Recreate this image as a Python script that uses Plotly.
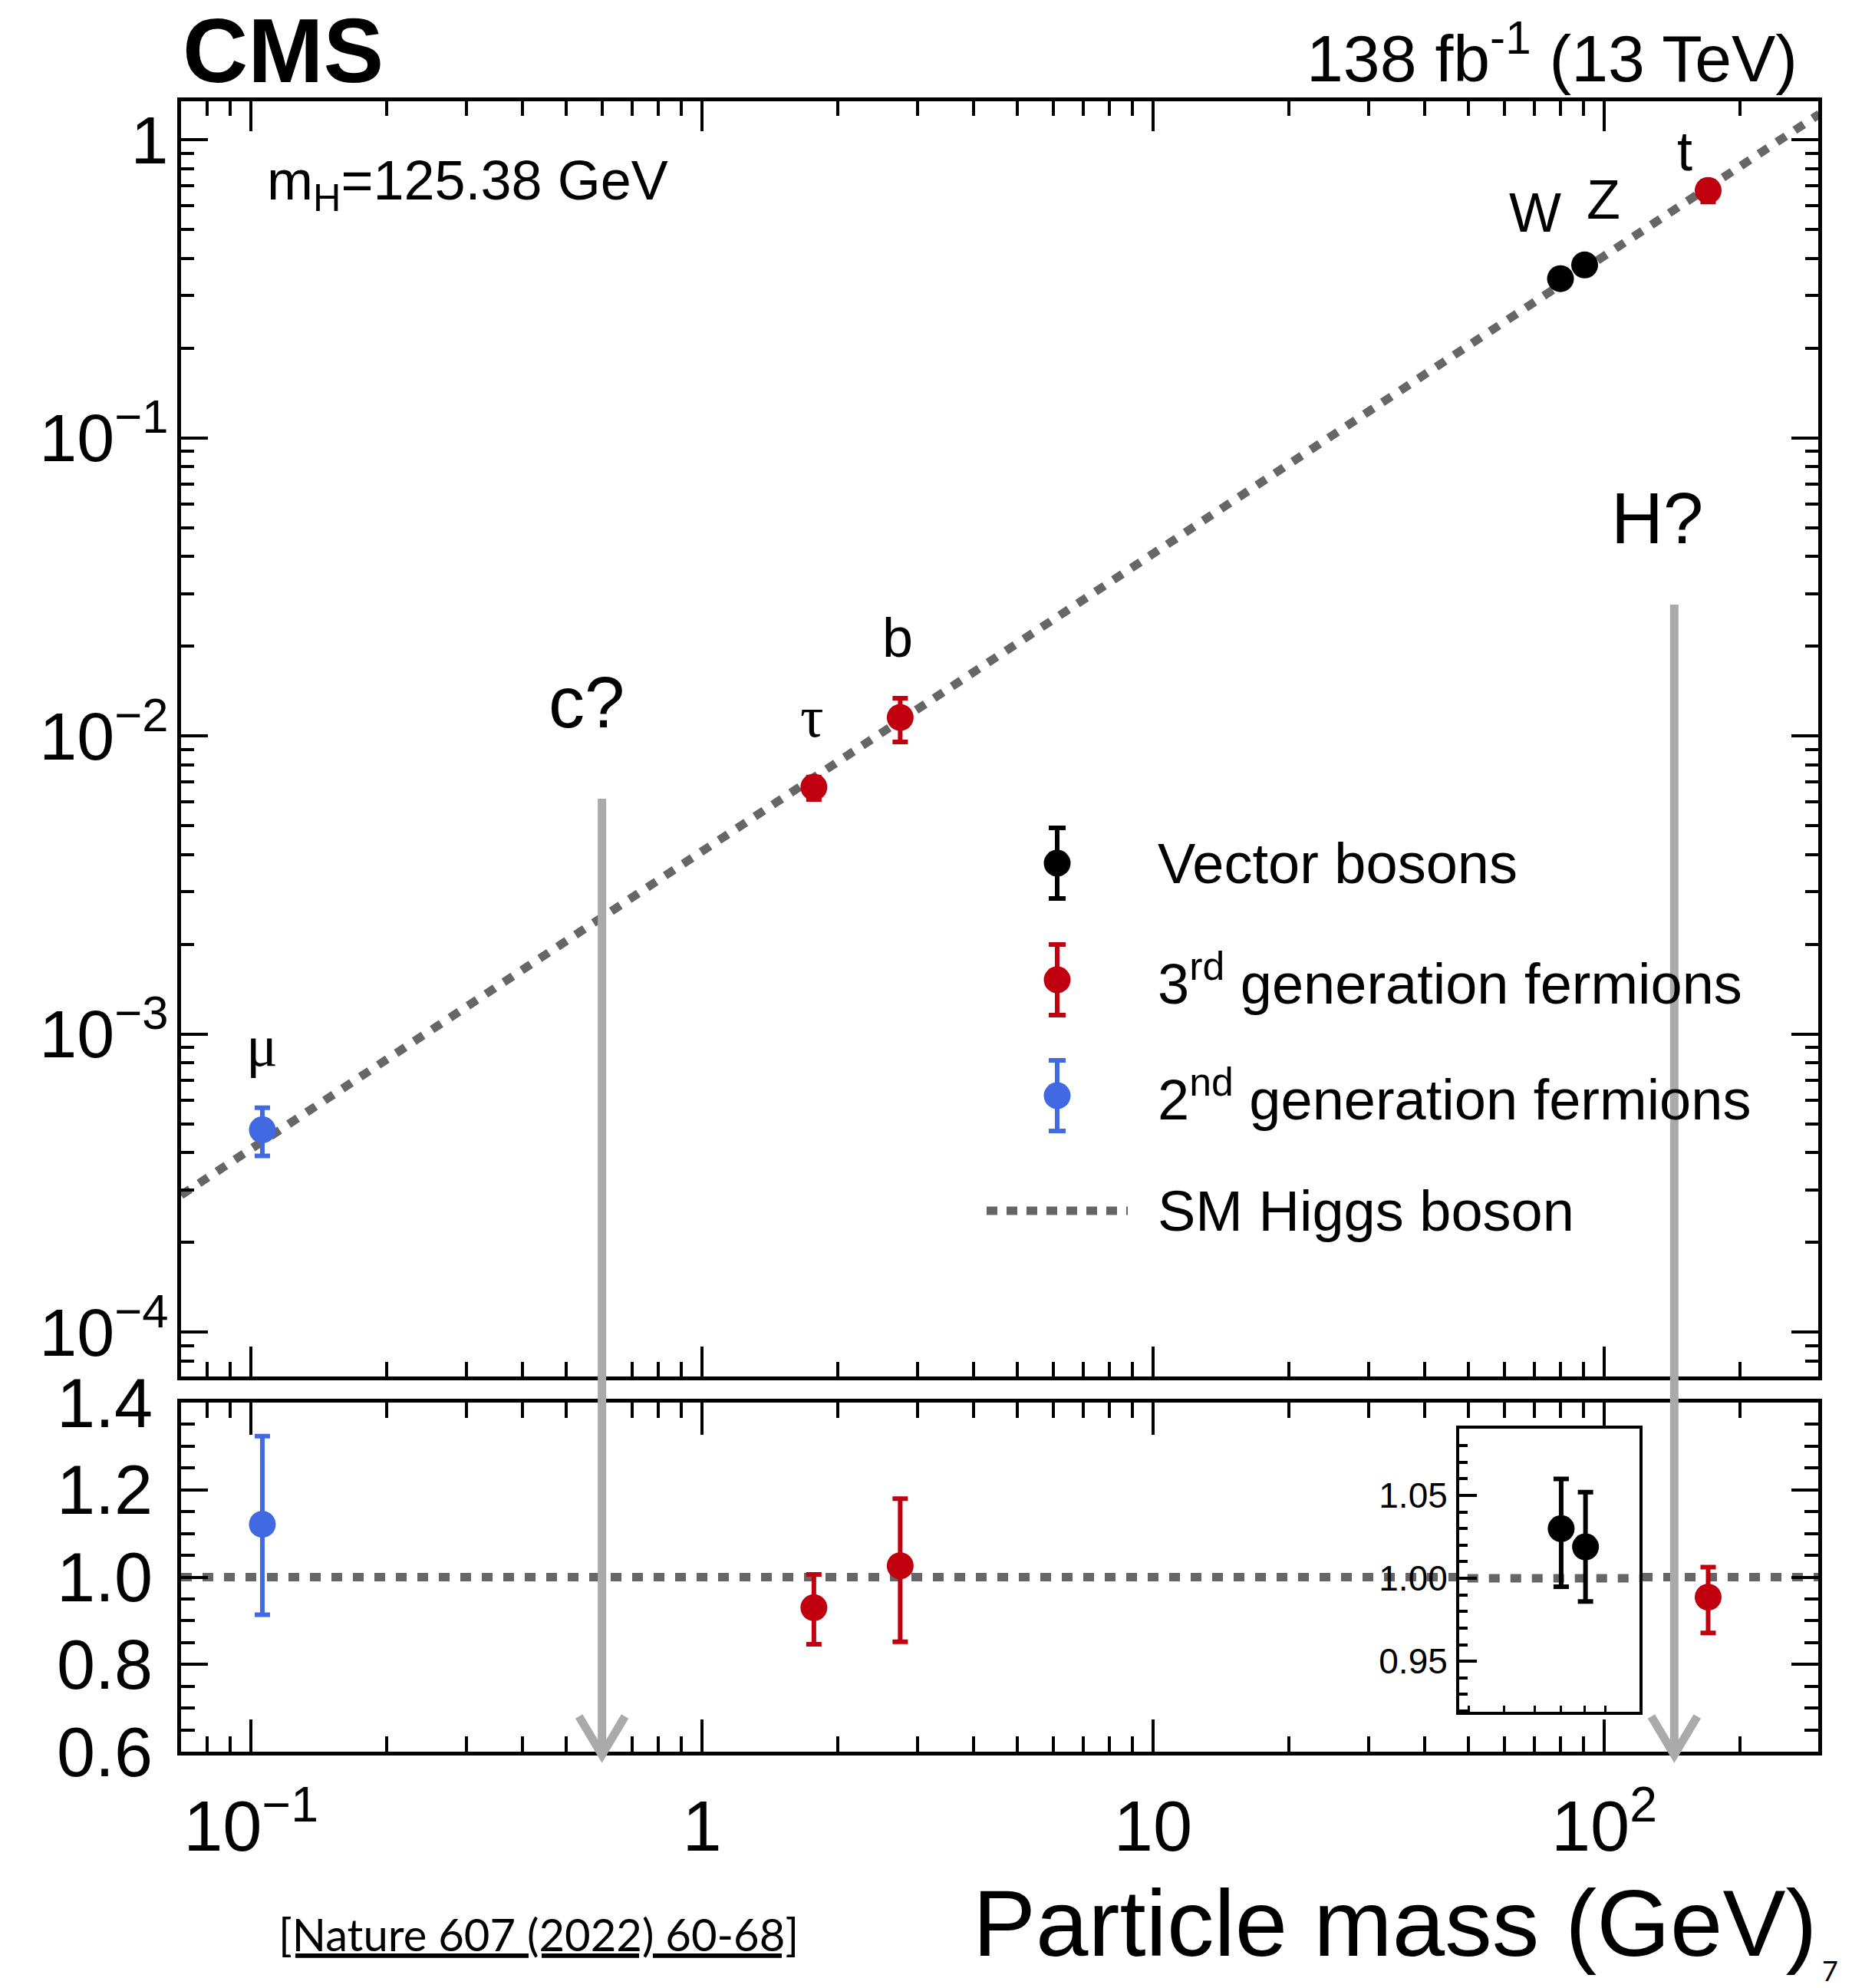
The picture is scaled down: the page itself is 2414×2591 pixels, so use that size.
import numpy as np
import plotly.graph_objects as go

# ---------------------------------------------------------------- data
# Vector bosons
vb_names = ["W", "Z"]
vb_mass = [80.0, 90.5]
vb_coupling = [0.342, 0.380]
vb_coupling_err = [0.005, 0.006]
vb_ratio = [1.030, 1.019]
vb_ratio_up = [0.030, 0.033]
vb_ratio_dn = [0.035, 0.033]

# 3rd generation fermions
f3_names = ["τ", "b", "t"]
f3_mass = [1.77, 2.75, 170.0]
f3_coupling = [0.00673, 0.01153, 0.676]
f3_coupling_up = [0.00055, 0.00184, 0.048]
f3_coupling_dn = [0.00061, 0.00198, 0.058]
f3_ratio = [0.930, 1.026, 0.954]
f3_ratio_up = [0.076, 0.154, 0.069]
f3_ratio_dn = [0.084, 0.174, 0.082]

# 2nd generation fermions
f2_names = ["μ"]
f2_mass = [0.106]
f2_coupling = [4.77e-4]
f2_coupling_up = [0.89e-4]
f2_coupling_dn = [0.87e-4]
f2_ratio = [1.121]
f2_ratio_up = [0.202]
f2_ratio_dn = [0.207]

# SM Higgs boson expectation (straight line in log-log)
sm_mass = [0.07, 300.0]
sm_coupling = [2.88e-4, 1.22]

# not-yet-observed couplings marked with arrows
open_names = ["c?", "H?"]
open_mass = [0.60, 143.0]

x_ticks = [0.1, 1, 10, 100]
x_ticktext = ["10<sup>−1</sup>", "1", "10", "10<sup>2</sup>"]
y_ticks = [1e-4, 1e-3, 1e-2, 1e-1, 1]
y_ticktext = ["10<sup>−4</sup>", "10<sup>−3</sup>", "10<sup>−2</sup>", "10<sup>−1</sup>", "1"]
r_ticks = [0.6, 0.8, 1.0, 1.2, 1.4]
r_ticktext = ["0.6", "0.8", "1.0", "1.2", "1.4"]
inset_ticks = [0.95, 1.00, 1.05]
inset_ticktext = ["0.95", "1.00", "1.05"]
inset_xticks = [50, 60, 70, 80, 90, 100]

# ---------------------------------------------------------------- style
FONT = "Liberation Sans, Arial, Helvetica, sans-serif"
SERIF = "Liberation Serif, Times New Roman, serif"
BLACK = "#000000"
RED = "#c1000f"
BLUE = "#4169e1"
GREY = "#666666"
ARROW = "#aaaaaa"

W, H = 2414, 2591
L, R, T, B = 236, 44, 132, 308
PW = W - L - R
PH = H - T - B


def px_x(px):
    return (px - L) / PW


def px_y(py):
    return (H - B - py) / PH


fig = go.Figure()


def points(x, y, up, dn, color, xa, ya):
    return go.Scatter(
        x=x, y=y, mode="markers", xaxis=xa, yaxis=ya,
        marker=dict(size=35, color=color, line=dict(width=0)),
        error_y=dict(type="data", symmetric=False, array=up, arrayminus=dn,
                     color=color, thickness=6, width=10),
        showlegend=False, hoverinfo="skip",
    )


dash_line = dict(color=GREY, width=11, dash="14px,14px")

# upper panel
fig.add_trace(go.Scatter(x=sm_mass, y=sm_coupling, mode="lines", xaxis="x", yaxis="y",
                         line=dash_line, showlegend=False, hoverinfo="skip"))
fig.add_trace(points(vb_mass, vb_coupling, vb_coupling_err, vb_coupling_err, BLACK, "x", "y"))
fig.add_trace(points(f3_mass, f3_coupling, f3_coupling_up, f3_coupling_dn, RED, "x", "y"))
fig.add_trace(points(f2_mass, f2_coupling, f2_coupling_up, f2_coupling_dn, BLUE, "x", "y"))

# ratio panel
fig.add_trace(go.Scatter(x=sm_mass, y=[1, 1], mode="lines", xaxis="x2", yaxis="y2",
                         line=dash_line, showlegend=False, hoverinfo="skip"))
fig.add_trace(points(f3_mass, f3_ratio, f3_ratio_up, f3_ratio_dn, RED, "x2", "y2"))
fig.add_trace(points(f2_mass, f2_ratio, f2_ratio_up, f2_ratio_dn, BLUE, "x2", "y2"))

# inset for the vector bosons
fig.add_trace(go.Scatter(x=[40, 130], y=[1, 1], mode="lines", xaxis="x3", yaxis="y3",
                         line=dash_line, showlegend=False, hoverinfo="skip"))
fig.add_trace(points(vb_mass, vb_ratio, vb_ratio_up, vb_ratio_dn, BLACK, "x3", "y3"))

# ---------------------------------------------------------------- axes
xrange = [np.log10(0.07), 2.4745]
common = dict(showline=True, linecolor=BLACK, linewidth=5, mirror="allticks",
              ticks="inside", tickwidth=4, tickcolor=BLACK, showgrid=False,
              zeroline=False, automargin=False)

fig.update_layout(
    width=W, height=H,
    margin=dict(l=L, r=R, t=T, b=B),
    paper_bgcolor="white", plot_bgcolor="white",
    font=dict(family=FONT, color=BLACK),
    showlegend=False,
    xaxis=dict(common, type="log", range=xrange, anchor="y", domain=[0, 1],
               tickmode="array", tickvals=x_ticks, showticklabels=False, ticklen=39,
               minor=dict(ticks="inside", ticklen=19, tickwidth=4, tickcolor=BLACK, dtick="D1")),
    yaxis=dict(common, type="log", range=[-4.149, 0.129], anchor="x",
               domain=[px_y(1794), 1],
               tickmode="array", tickvals=y_ticks, ticktext=y_ticktext, ticklen=35,
               tickfont=dict(size=88, family=FONT), ticklabelstandoff=-6,
               minor=dict(ticks="inside", ticklen=17, tickwidth=4, tickcolor=BLACK, dtick="D1")),
    xaxis2=dict(common, type="log", range=xrange, anchor="y2", domain=[0, 1],
                tickmode="array", tickvals=x_ticks, ticktext=x_ticktext, ticklen=42,
                tickfont=dict(size=92, family=FONT), ticklabelstandoff=14,
                minor=dict(ticks="inside", ticklen=20, tickwidth=4, tickcolor=BLACK, dtick="D1")),
    yaxis2=dict(common, range=[0.6, 1.4], anchor="x2", domain=[0, px_y(1828)],
                tickmode="array", tickvals=r_ticks, ticktext=r_ticktext, ticklen=35,
                tickfont=dict(size=90, family=FONT), ticklabelstandoff=14,
                minor=dict(ticks="inside", ticklen=18, tickwidth=4, tickcolor=BLACK, dtick=0.05)),
    xaxis3=dict(type="log", range=[np.log10(47.7), np.log10(119)], anchor="y3",
                domain=[px_x(1902), px_x(2137)], showline=True, linecolor=BLACK,
                linewidth=4, mirror=True, ticks="inside", ticklen=8, tickwidth=3,
                tickcolor=BLACK, tickmode="array", tickvals=inset_xticks,
                showticklabels=False, showgrid=False, zeroline=False, automargin=False),
    yaxis3=dict(range=[0.9195, 1.0903], anchor="x3",
                domain=[px_y(2231), px_y(1862)], showline=True, linecolor=BLACK,
                linewidth=4, mirror=True, ticks="inside", ticklen=23, tickwidth=4,
                tickcolor=BLACK, tickmode="array", tickvals=inset_ticks,
                ticktext=inset_ticktext, tickfont=dict(size=46, family=FONT),
                ticklabelstandoff=2, showgrid=False, zeroline=False, automargin=False,
                minor=dict(ticks="inside", ticklen=11, tickwidth=4, tickcolor=BLACK, dtick=0.01)),
)

# ---------------------------------------------------------------- particle labels
label_offset = {"μ": (0, 110), "τ": (-2, 92), "b": (-3, 104),
                "W": (-33, 86), "Z": (24, 85), "t": (-31, 51)}
annotations = []
for names, masses, coups in [(vb_names, vb_mass, vb_coupling),
                             (f3_names, f3_mass, f3_coupling),
                             (f2_names, f2_mass, f2_coupling)]:
    for n, m, c in zip(names, masses, coups):
        dx, dy = label_offset[n]
        greek = n in ("μ", "τ")
        annotations.append(dict(
            x=np.log10(m), y=np.log10(c), xref="x", yref="y", text=n,
            showarrow=False, xanchor="center", yanchor="middle",
            xshift=dx, yshift=dy,
            font=dict(size=76 if greek else 72, family=SERIF if greek else FONT, color=BLACK)))

# ---------------------------------------------------------------- arrows for c and H
shapes = []
arrow_top = {"c?": px_y(1041), "H?": px_y(788)}
arrow_label = {"c?": (-20, px_y(915)), "H?": (-22, px_y(676))}
tip = px_y(2289)
for n, m in zip(open_names, open_mass):
    shapes.append(dict(type="line", xref="x2", yref="paper", x0=m, x1=m,
                       y0=arrow_top[n], y1=tip, layer="above",
                       line=dict(color=ARROW, width=11)))
    shapes.append(dict(type="path", xref="x2", yref="paper",
                       xsizemode="pixel", ysizemode="pixel", xanchor=m, yanchor=tip,
                       path="M-30,52 L0,2 L30,52", layer="above",
                       line=dict(color=ARROW, width=11)))
    dx, ly = arrow_label[n]
    annotations.append(dict(x=np.log10(m), y=ly, xref="x2", yref="paper", text=n,
                            showarrow=False, xanchor="center", yanchor="middle", xshift=dx,
                            font=dict(size=94, family=FONT, color=BLACK)))

# ---------------------------------------------------------------- legend
leg_x = px_x(1378)
leg_text_x = px_x(1507)
leg_rows = [px_y(1125), px_y(1277), px_y(1428), px_y(1578)]
leg_entries = [("Vector bosons", BLACK),
               ("3<sup>rd</sup> generation fermions", RED),
               ("2<sup>nd</sup> generation fermions", BLUE)]
pix = dict(xref="paper", yref="paper", xsizemode="pixel", ysizemode="pixel", layer="above")
for (text, col), ly in zip(leg_entries, leg_rows):
    shapes.append(dict(pix, type="line", xanchor=leg_x, yanchor=ly, x0=0, x1=0, y0=-46, y1=46,
                       line=dict(color=col, width=6)))
    for yc in (-46, 46):
        shapes.append(dict(pix, type="line", xanchor=leg_x, yanchor=ly, x0=-11, x1=11,
                           y0=yc, y1=yc, line=dict(color=col, width=6)))
    shapes.append(dict(pix, type="circle", xanchor=leg_x, yanchor=ly, x0=-17.5, x1=17.5,
                       y0=-17.5, y1=17.5, fillcolor=col, line=dict(width=0)))
    annotations.append(dict(x=leg_text_x, y=ly, xref="paper", yref="paper", text=text,
                            showarrow=False, xanchor="left", yanchor="middle",
                            font=dict(size=74, family=FONT, color=BLACK)))
shapes.append(dict(type="line", xref="paper", yref="paper", x0=px_x(1286), x1=px_x(1470),
                   y0=leg_rows[3], y1=leg_rows[3], layer="above",
                   line=dict(color=GREY, width=11, dash="14px,12px")))
annotations.append(dict(x=leg_text_x, y=leg_rows[3], xref="paper", yref="paper",
                        text="SM Higgs boson", showarrow=False, xanchor="left",
                        yanchor="middle", font=dict(size=74, family=FONT, color=BLACK)))

# ---------------------------------------------------------------- headers and captions
annotations += [
    dict(x=0, y=px_y(66), xref="paper", yref="paper", text="<b>CMS</b>", showarrow=False,
         xanchor="left", yanchor="middle", font=dict(size=118, family=FONT, color=BLACK)),
    dict(x=px_x(2345), y=px_y(70), xref="paper", yref="paper",
         text="138 fb<sup>-1</sup> (13 TeV)", showarrow=False, xanchor="right",
         yanchor="middle", font=dict(size=86, family=FONT, color=BLACK)),
    dict(x=px_x(346), y=px_y(240), xref="paper", yref="paper",
         text="m<sub>H</sub>=125.38 GeV", showarrow=False, xanchor="left",
         yanchor="middle", font=dict(size=72, family=FONT, color=BLACK)),
    dict(x=1.0, y=px_y(2506), xref="paper", yref="paper", text="Particle mass (GeV)",
         showarrow=False, xanchor="right", yanchor="middle",
         font=dict(size=123, family=FONT, color=BLACK)),
    dict(x=px_x(702), y=px_y(2520), xref="paper", yref="paper",
         text="<u>[Nature 607 (2022) 60-68]</u>", showarrow=False, xanchor="center",
         yanchor="middle", font=dict(size=58, family="Lato, Open Sans, sans-serif", color=BLACK)),
    dict(x=px_x(2386), y=px_y(2568), xref="paper", yref="paper", text="7",
         showarrow=False, xanchor="center", yanchor="middle",
         font=dict(size=36, family="Lato, Open Sans, sans-serif", color=BLACK)),
]

fig.update_layout(shapes=shapes, annotations=annotations)
fig.write_html("out.html")
